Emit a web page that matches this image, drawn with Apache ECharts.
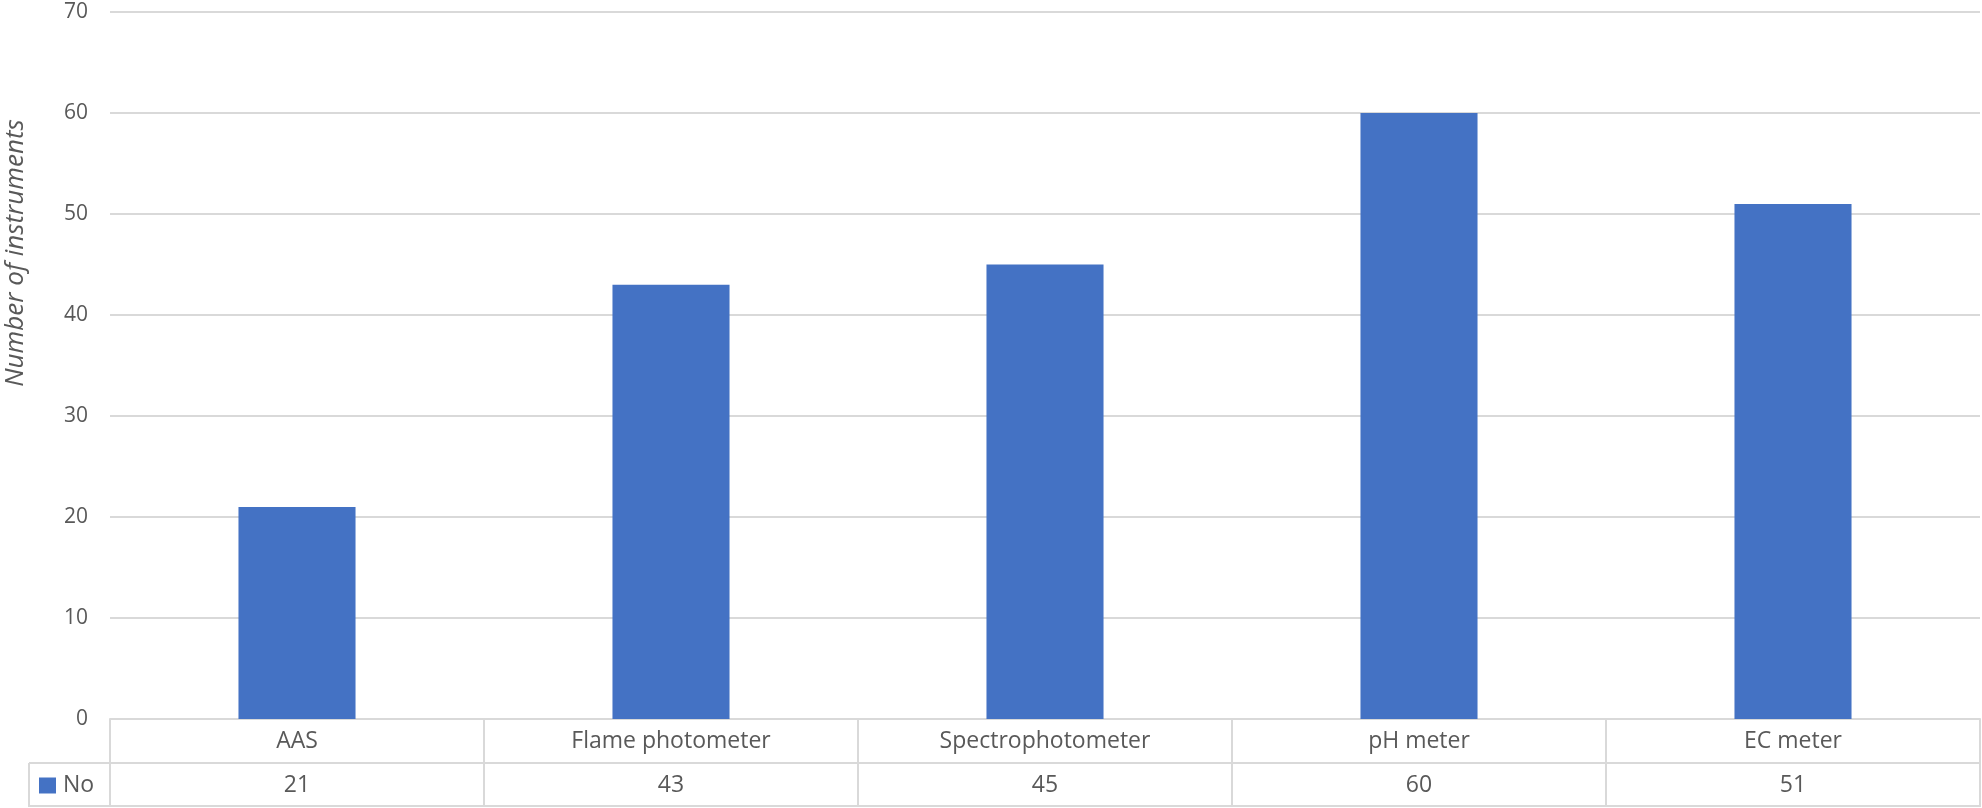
<!DOCTYPE html>
<html>
<head>
<meta charset="utf-8">
<script src="https://cdn.jsdelivr.net/npm/echarts@6/dist/echarts.min.js"></script>
<style>
  html, body { margin: 0; padding: 0; background: #ffffff; }
  #chart { width: 1982px; height: 808px; }
</style>
</head>
<body>
<div id="chart"></div>
<script>
// Instrument counts per type
const categories = ['AAS', 'Flame photometer', 'Spectrophotometer', 'pH meter', 'EC meter'];
const seriesName = 'No';
const counts = [21, 43, 45, 60, 51];
const yTicks = { min: 0, max: 70, interval: 10 };
const yTitle = 'Number of instruments';

// Layout of plot area and the data table below it
const GRID = { left: 110, right: 2, top: 12, bottom: 89 };
const ROW_H = 44;
const TABLE_LEFT = 29;
const FONT = "'Open Sans', 'Noto Sans', sans-serif";
const TEXT = '#595959';
const RULE = '#d9d9d9';
const BAR = '#4472c4';

const chart = echarts.init(document.getElementById('chart'), null, { renderer: 'canvas' });

const H = 808;
const axisY = H - GRID.bottom;          // baseline of the plot area
const row2Y = axisY + ROW_H;            // line between category row and value row
const row3Y = axisY + 2 * ROW_H;        // bottom of the table

chart.setOption({
  animation: false,
  backgroundColor: '#ffffff',
  textStyle: { fontFamily: FONT, color: TEXT },
  grid: { left: GRID.left, right: GRID.right, top: GRID.top, bottom: GRID.bottom, containLabel: false },
  legend: {
    data: [seriesName],
    left: 39,
    top: row2Y + 11,
    icon: 'rect',
    itemWidth: 17,
    itemHeight: 16,
    itemGap: 0,
    padding: 0,
    textStyle: { fontFamily: FONT, fontSize: 23, color: TEXT, padding: [0, 0, 0, 2] }
  },
  xAxis: [
    {
      type: 'category',
      data: categories,
      position: 'bottom',
      axisLine: { show: true, lineStyle: { color: RULE, width: 2 } },
      axisTick: { show: true, length: 2 * ROW_H, lineStyle: { color: RULE, width: 2 } },
      axisLabel: { fontFamily: FONT, fontSize: 23, color: TEXT, margin: ROW_H / 2, verticalAlign: 'middle' }
    },
    {
      type: 'category',
      data: counts.map(String),
      position: 'bottom',
      offset: ROW_H,
      axisLine: { show: true, lineStyle: { color: RULE, width: 2 } },
      axisTick: { show: false },
      axisLabel: { fontFamily: FONT, fontSize: 23, color: TEXT, margin: ROW_H / 2, verticalAlign: 'middle' }
    },
    {
      type: 'category',
      data: categories,
      position: 'bottom',
      offset: 2 * ROW_H - 1,
      axisLine: { show: true, lineStyle: { color: RULE, width: 2 } },
      axisTick: { show: false },
      axisLabel: { show: false }
    }
  ],
  yAxis: {
    type: 'value',
    min: yTicks.min,
    max: yTicks.max,
    interval: yTicks.interval,
    axisLine: { show: false },
    axisTick: { show: false },
    axisLabel: { fontFamily: FONT, fontSize: 21, color: TEXT, margin: 22 },
    splitLine: { show: true, lineStyle: { color: RULE, width: 2 } }
  },
  series: [
    {
      name: seriesName,
      type: 'bar',
      xAxisIndex: 0,
      data: counts,
      barWidth: '31.3%',
      itemStyle: { color: BAR }
    }
  ],
  graphic: [
    // legend cell of the data table
    { type: 'line', shape: { x1: TABLE_LEFT, y1: row2Y, x2: GRID.left, y2: row2Y }, style: { stroke: RULE, lineWidth: 2 }, silent: true },
    { type: 'line', shape: { x1: TABLE_LEFT, y1: row3Y - 1, x2: GRID.left, y2: row3Y - 1 }, style: { stroke: RULE, lineWidth: 2 }, silent: true },
    { type: 'line', shape: { x1: TABLE_LEFT, y1: row2Y, x2: TABLE_LEFT, y2: row3Y }, style: { stroke: RULE, lineWidth: 2 }, silent: true },
    // rotated value-axis title
    {
      type: 'text',
      x: 16,
      y: 253,
      rotation: Math.PI / 2,
      style: {
        text: yTitle,
        fontFamily: FONT,
        fontStyle: 'italic',
        fontSize: 26,
        fill: TEXT,
        align: 'center',
        verticalAlign: 'middle'
      },
      silent: true
    }
  ]
});
</script>
</body>
</html>
